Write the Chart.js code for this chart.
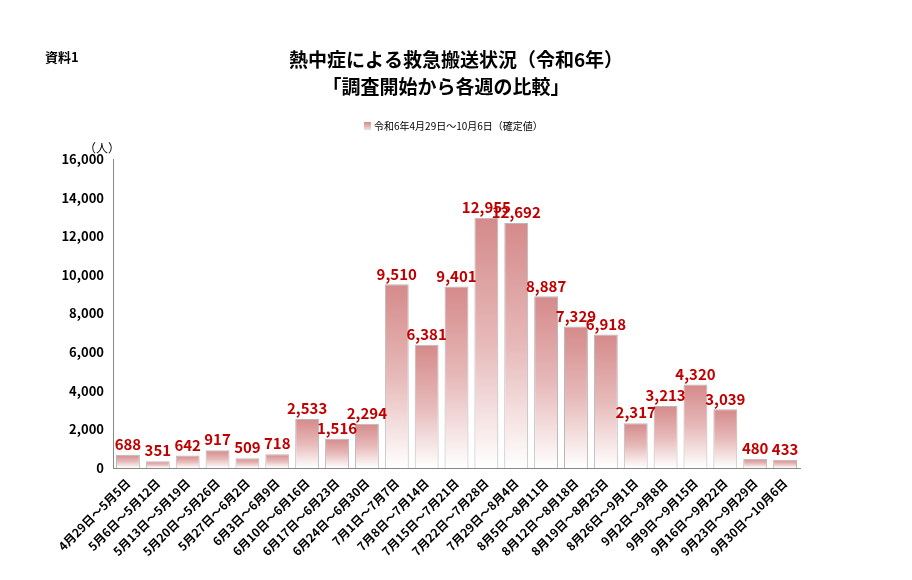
<!DOCTYPE html>
<html lang="ja">
<head>
  <meta charset="UTF-8">
  <title>熱中症による救急搬送状況</title>
  <script src="https://cdn.jsdelivr.net/npm/chart.js"></script>
  <style>
    body { margin: 0; background: #fff; }
    #wrap { width: 912px; height: 580px; position: relative; }
  </style>
</head>
<body>
  <div id="wrap"><canvas id="myChart"></canvas></div>
  <script>
    const weeks = ['4月29日～5月5日','5月6日～5月12日','5月13日～5月19日','5月20日～5月26日','5月27日～6月2日','6月3日～6月9日','6月10日～6月16日','6月17日～6月23日','6月24日～6月30日','7月1日～7月7日','7月8日～7月14日','7月15日～7月21日','7月22日～7月28日','7月29日～8月4日','8月5日～8月11日','8月12日～8月18日','8月19日～8月25日','8月26日～9月1日','9月2日～9月8日','9月9日～9月15日','9月16日～9月22日','9月23日～9月29日','9月30日～10月6日'];
    const cases = [688, 351, 642, 917, 509, 718, 2533, 1516, 2294, 9510, 6381, 9401, 12955, 12692, 8887, 7329, 6918, 2317, 3213, 4320, 3039, 480, 433];
    const titleLines = ['熱中症による救急搬送状況（令和6年）', '「調査開始から各週の比較」'];
    const seriesName = '令和6年4月29日～10月6日（確定値）';

    const font = "'Noto Sans CJK JP', sans-serif";

    function barFill(ctx) {
      const chart = ctx.chart;
      if (!chart.chartArea || ctx.type !== 'data') return '#e0a0a0';
      const ys = chart.scales.y;
      const top = ys.getPixelForValue(ctx.parsed.y);
      const bottom = ys.getPixelForValue(0);
      const g = chart.ctx.createLinearGradient(0, top, 0, bottom);
      g.addColorStop(0, '#d58a8a');
      g.addColorStop(0.5, '#e7b9b9');
      g.addColorStop(1, '#ffffff');
      return g;
    }

    const extras = {
      id: 'extras',
      afterDatasetsDraw(chart) {
        const c = chart.ctx;
        const meta = chart.getDatasetMeta(0);
        c.save();
        c.fillStyle = '#c00000';
        c.font = "bold 15px " + font;
        c.textAlign = 'center';
        c.textBaseline = 'bottom';
        meta.data.forEach((bar, i) => {
          c.fillText(cases[i].toLocaleString('en-US'), bar.x, bar.y - 3);
        });
        // titles and legend
        c.fillStyle = '#000';
        c.font = "bold 19px " + font;
        c.textBaseline = 'middle';
        c.fillText(titleLines[0], 456, 60);
        c.fillText(titleLines[1], 446, 87);
        c.font = "10px " + font;
        c.textAlign = 'left';
        c.fillText(seriesName, 374, 126);
        const g = c.createLinearGradient(0, 122, 0, 130);
        g.addColorStop(0, '#d58a8a'); g.addColorStop(1, '#f3dede');
        c.fillStyle = g;
        c.fillRect(364, 122, 7, 8);
        c.fillStyle = '#000';
        c.font = "bold 13px " + font;
        c.fillText('資料1', 45, 57);
        c.font = "12px " + font;
        c.fillText('（人）', 84, 148);
        c.restore();
      }
    };

    new Chart(document.getElementById('myChart'), {
      type: 'bar',
      data: {
        labels: weeks,
        datasets: [{
          label: seriesName,
          data: cases,
          backgroundColor: barFill,
          borderColor: '#b8b8b8',
          borderWidth: 1,
          categoryPercentage: 1,
          barPercentage: 0.8
        }]
      },
      options: {
        responsive: true,
        maintainAspectRatio: false,
        animation: false,
        layout: { padding: { left: 40, right: 112, top: 159, bottom: 0 } },
        scales: {
          y: {
            min: 0, max: 16000,
            afterFit: s => { s.width = 73; },
            ticks: { stepSize: 2000, color: '#000', font: { family: font, size: 13, weight: 'bold' },
              callback: v => v.toLocaleString('en-US') },
            grid: { display: false, drawTicks: true, tickLength: 6 },
            border: { color: '#888' }
          },
          x: {
            afterFit: s => { s.height = 112; },
            ticks: { color: '#000', font: { family: font, size: 12, weight: 'bold' }, maxRotation: 45, minRotation: 45, autoSkip: false },
            grid: { display: false, drawTicks: true, tickLength: 5 },
            border: { color: '#888' }
          }
        },
        plugins: {
          title: { display: false },
          legend: { display: false },
          tooltip: { enabled: false }
        }
      },
      plugins: [extras]
    });
  </script>
</body>
</html>
